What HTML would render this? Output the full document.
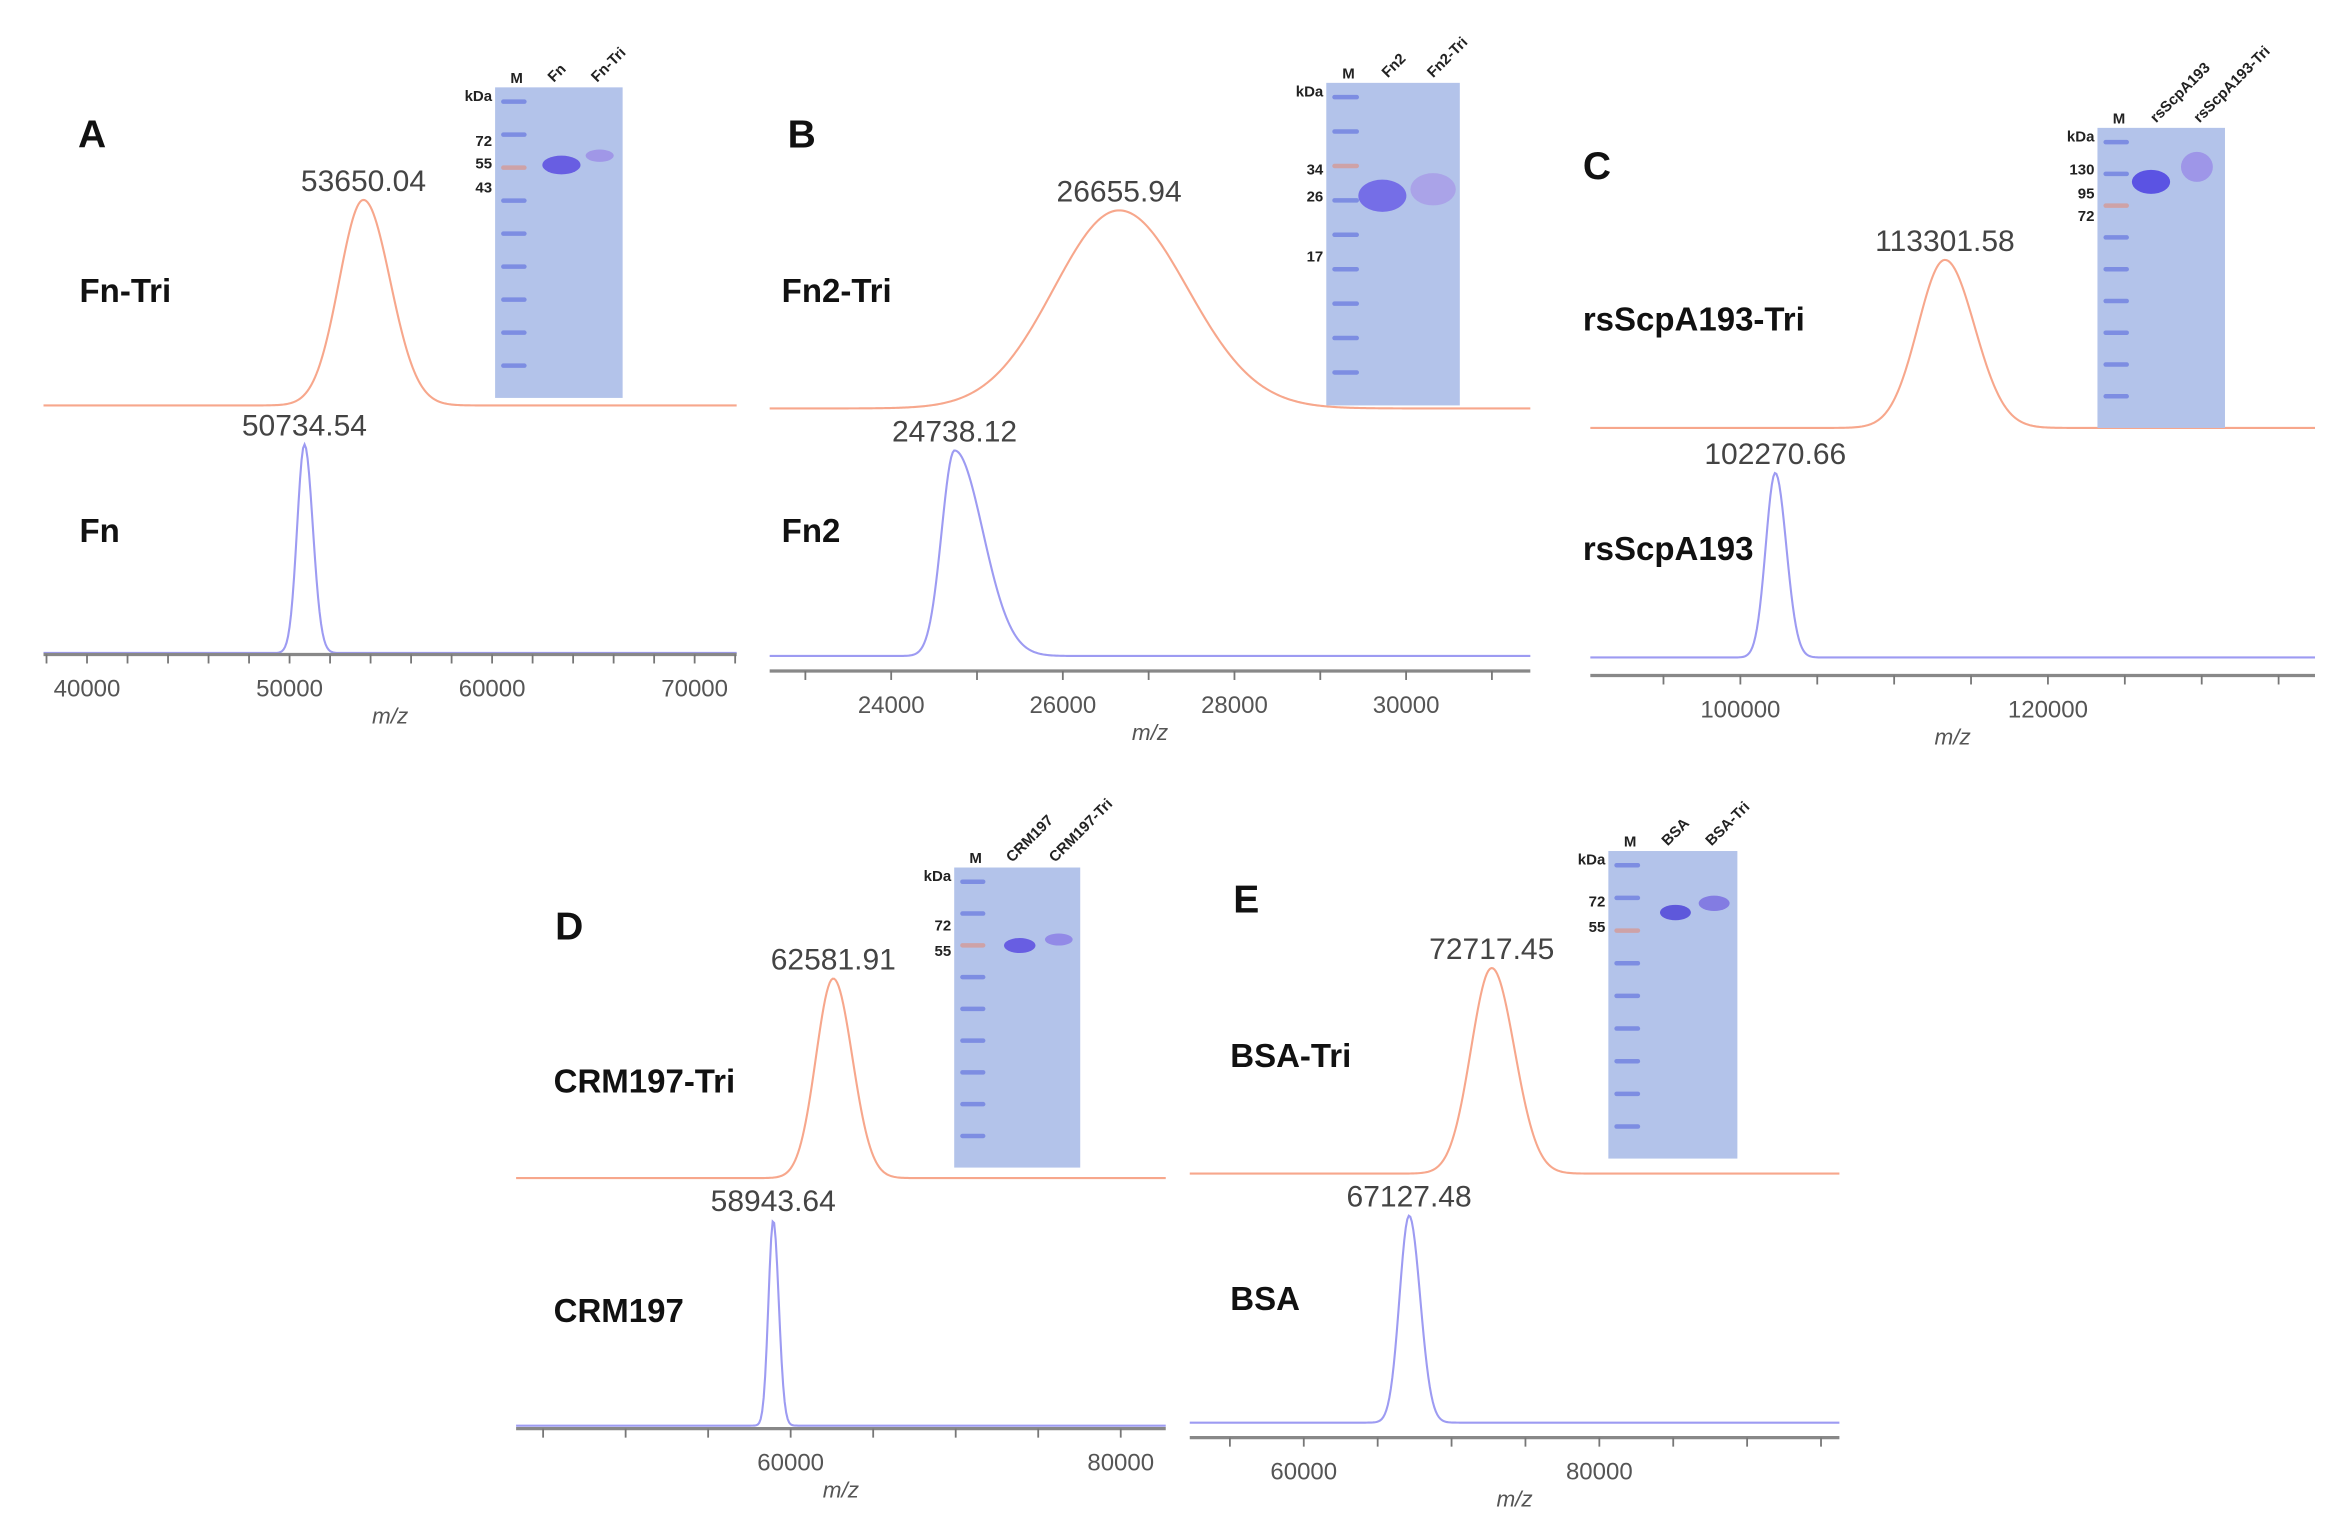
<!DOCTYPE html>
<html><head><meta charset="utf-8">
<style>
html,body{margin:0;padding:0;background:#fff;}
svg{display:block;}
text{font-family:"Liberation Sans",Arial,sans-serif;}
</style></head>
<body>
<svg id="fig" width="2345" height="1531" viewBox="0 0 1563 1020" xmlns="http://www.w3.org/2000/svg"></svg>
<script>
// ---- data ----
const panelLetters = ["A","B","C","D","E"];
const triNames = ["Fn-Tri","Fn2-Tri","rsScpA193-Tri","CRM197-Tri","BSA-Tri"];
const baseNames = ["Fn","Fn2","rsScpA193","CRM197","BSA"];
const triPeaks = [53650.04, 26655.94, 113301.58, 62581.91, 72717.45];
const basePeaks = [50734.54, 24738.12, 102270.66, 58943.64, 67127.48];
const triWidths = [1200, 760, 1750, 1050, 1400];
const baseWidths = [360, 150, 620, 290, 650];
const tickLabels = [[40000,50000,60000,70000],[24000,26000,28000,30000],[100000,120000],[60000,80000],[60000,80000]];
const minorStep = [2000, 1000, 5000, 5000, 5000];
const gelLanes = [["M","Fn","Fn-Tri"],["M","Fn2","Fn2-Tri"],["M","rsScpA193","rsScpA193-Tri"],["M","CRM197","CRM197-Tri"],["M","BSA","BSA-Tri"]];
const gelMarkers = [["72","55","43"],["34","26","17"],["130","95","72"],["72","55"],["72","55"]];

// ---- layout (pixel geometry, display coords) ----
const L = [
 {x0:29,x1:491,ref:50000,refPx:193,ppd:0.0135,axisY:436,triBase:270,triTop:133,baseBase:435,baseTop:296,
  letter:[52,98],triLbl:[53,201],baseLbl:[53,361],gel:[330,58,85,207],mk:[93,108,124],bands:[[0.52,0.25,0.3,0.06,'#5b4ce0'],[0.82,0.22,0.22,0.04,'#9c8fe6']]},
 {x0:513,x1:1020,ref:24000,refPx:594,ppd:0.0572,axisY:447,triBase:272,triTop:140,baseBase:437,baseTop:300,
  letter:[525,98],triLbl:[521,201],baseLbl:[521,361],gel:[884,55,89,215],mk:[112,130,170],bands:[[0.42,0.35,0.36,0.1,'#6a5fe6'],[0.8,0.33,0.34,0.1,'#a89ee8']]},
 {x0:1060,x1:1543,ref:100000,refPx:1160,ppd:0.01025,axisY:450,triBase:285,triTop:173,baseBase:438,baseTop:315,
  letter:[1055,119],triLbl:[1055,220],baseLbl:[1055,373],gel:[1398,85,85,200],mk:[112,128,143],bands:[[0.42,0.18,0.3,0.08,'#4b3fe2'],[0.78,0.13,0.25,0.1,'#9a8ee8']]},
 {x0:344,x1:777,ref:60000,refPx:527,ppd:0.011,axisY:952,triBase:785,triTop:652,baseBase:950,baseTop:813,
  letter:[370,626],triLbl:[369,728],baseLbl:[369,881],gel:[636,578,84,200],mk:[616,633],bands:[[0.52,0.26,0.25,0.05,'#5b4ce0'],[0.83,0.24,0.22,0.04,'#8c80e6']]},
 {x0:793,x1:1226,ref:60000,refPx:869,ppd:0.00985,axisY:958,triBase:782,triTop:645,baseBase:948,baseTop:810,
  letter:[822,608],triLbl:[820,711],baseLbl:[820,873],gel:[1072,567,86,205],mk:[600,617],bands:[[0.52,0.2,0.24,0.05,'#4f45d8'],[0.82,0.17,0.24,0.05,'#7a70e0']]}
];

const NS="http://www.w3.org/2000/svg";
const svg=document.getElementById('fig');
function mk(tag,attrs,parent){const e=document.createElementNS(NS,tag);for(const k in attrs)e.setAttribute(k,attrs[k]);(parent||svg).appendChild(e);return e;}

for(let p=0;p<5;p++){
  const g=L[p];
  const grp=mk('g',{});
  
  
  const xs=v=>g.refPx+(v-g.ref)*g.ppd;
  const inv=px=>g.ref+(px-g.refPx)/g.ppd;
  function curve(center,sig,base,top,color,name,asym){
    let d='';
    for(let px=g.x0;px<=g.x1;px+=1){
      const v=inv(px);
      let s=sig; if(asym&&v>center) s=sig*asym;
      const y=base-(base-top)*Math.exp(-0.5*Math.pow((v-center)/s,2));
      d+=(px===g.x0?'M':'L')+px.toFixed(1)+','+y.toFixed(2);
    }
    const path=mk('path',{d:d,fill:'none',stroke:color,'stroke-width':1.4},grp);
    
    
  }
  curve(triPeaks[p],triWidths[p],g.triBase,g.triTop,'#f7a78c','tri-spectrum',p===1?1.05:1.1);
  curve(basePeaks[p],baseWidths[p],g.baseBase,g.baseTop,'#9d9bf2','native-spectrum',p===1?2.2:1.15);
  const t1=mk('text',{x:xs(triPeaks[p]),y:g.triTop-6,'font-size':20,fill:'#444','text-anchor':'middle'},grp);
  t1.textContent=triPeaks[p].toFixed(2);
  
  
  const t2=mk('text',{x:xs(basePeaks[p]),y:g.baseTop-6,'font-size':20,fill:'#444','text-anchor':'middle'},grp);
  t2.textContent=basePeaks[p].toFixed(2);
  
  
  const lt=mk('text',{x:g.letter[0],y:g.letter[1],'font-size':26,'font-weight':'bold',fill:'#111'},grp);
  lt.textContent=panelLetters[p];
  
  
  const n1=mk('text',{x:g.triLbl[0],y:g.triLbl[1],'font-size':22,'font-weight':'bold',fill:'#111'},grp);
  n1.textContent=triNames[p];
  
  
  const n2=mk('text',{x:g.baseLbl[0],y:g.baseLbl[1],'font-size':22,'font-weight':'bold',fill:'#111'},grp);
  n2.textContent=baseNames[p];
  
  
  const ax=mk('line',{x1:g.x0,x2:g.x1,y1:g.axisY,y2:g.axisY,stroke:'#888','stroke-width':2.2},grp);
  
  
  const st=minorStep[p];
  for(let v=Math.ceil(inv(g.x0)/st)*st; v<=inv(g.x1); v+=st){
    const tk=mk('line',{x1:xs(v),x2:xs(v),y1:g.axisY,y2:g.axisY+6,stroke:'#777','stroke-width':1.2},grp);
    
    
  }
  tickLabels[p].forEach(v=>{
    const tl=mk('text',{x:xs(v),y:g.axisY+28,'font-size':16,fill:'#555','text-anchor':'middle'},grp);
    tl.textContent=v;
    
    
  });
  const mz=mk('text',{x:(g.x0+g.x1)/2,y:g.axisY+46,'font-size':15,'font-style':'italic',fill:'#555','text-anchor':'middle'},grp);
  mz.textContent='m/z';
  
  
  const [gx,gy,gw,gh]=g.gel;
  const gr=mk('rect',{x:gx,y:gy,width:gw,height:gh,fill:'#b3c3ea'},grp);
  
  
  for(let i=0;i<9;i++){
    const my=gy+8+i*(gh-20)/8.5;
    mk('rect',{x:gx+4,y:my,width:gw*0.2,height:3,fill:i===2?'#d49a96':'#6f80e0',opacity:0.8,rx:1.5},grp);
  }
  g.bands.forEach(b=>{
    mk('ellipse',{cx:gx+gw*b[0],cy:gy+gh*b[1],rx:gw*b[2]/2,ry:gh*b[3]/2,fill:b[4],opacity:0.85},grp);
  });
  const kd=mk('text',{x:gx-2,y:gy+9,'font-size':10,'font-weight':'bold',fill:'#222','text-anchor':'end'},grp);
  kd.textContent='kDa';
  
  
  gelMarkers[p].forEach((m,i)=>{
    const mt=mk('text',{x:gx-2,y:g.mk[i]+4,'font-size':10,'font-weight':'bold',fill:'#222','text-anchor':'end'},grp);
    mt.textContent=m;
    
    
  });
  gelLanes[p].forEach((ln,i)=>{
    const lx=gx+gw*(0.12+i*0.34);
    const lt2=mk('text',{x:lx,y:gy-3,'font-size':10,'font-weight':'bold',fill:'#222',transform:i?('rotate(-45 '+lx+' '+(gy-3)+')'):''},grp);
    lt2.textContent=ln;
    
    
  });
}
</script>
</body></html>
